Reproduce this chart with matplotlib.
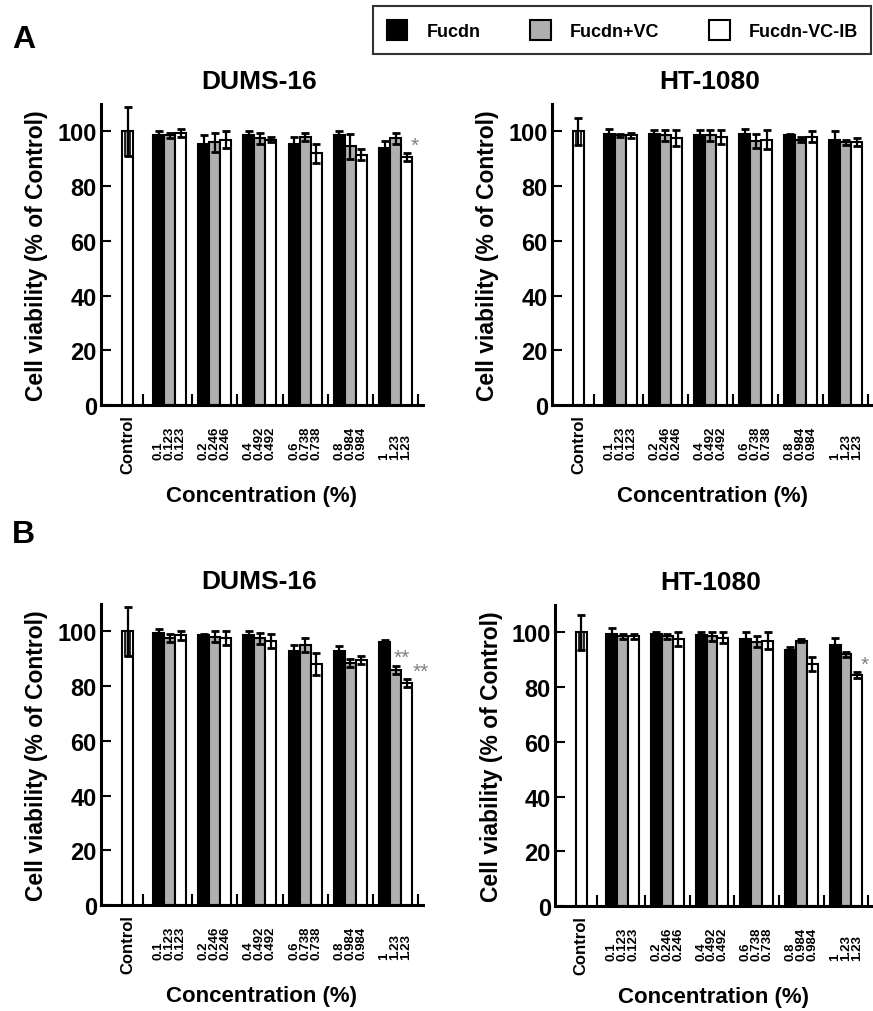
import matplotlib
matplotlib.use("Agg")
import matplotlib.pyplot as plt
import numpy as np
from matplotlib.patches import Patch

plt.rcParams["font.family"] = ["Liberation Sans", "DejaVu Sans"]
plt.rcParams["font.weight"] = "bold"

SERIES = ["Fucdn", "Fucdn+VC", "Fucdn-VC-IB"]
COLORS = ["#000000", "#afafaf", "#ffffff"]
FUCDN_CONC = ["0.1", "0.2", "0.4", "0.6", "0.8", "1"]
VC_CONC = ["0.123", "0.246", "0.492", "0.738", "0.984", "1.23"]
IB_CONC = ["0.123", "0.246", "0.492", "0.738", "0.984", "1.23"]

# panel A, DUMS-16
A_DUMS_CTRL = (100, 9)
A_DUMS_FUCDN = [98.5, 95.5, 98.5, 95.5, 98.5, 94]
A_DUMS_FUCDN_ERR = [1.5, 3, 1.5, 2.5, 1.5, 2.5]
A_DUMS_VC = [98.5, 96, 97.5, 98, 94.5, 97.5]
A_DUMS_VC_ERR = [1, 3.5, 2, 1.5, 4.5, 2]
A_DUMS_IB = [99.5, 97, 97, 92, 91.5, 90.5]
A_DUMS_IB_ERR = [1.5, 3, 0.8, 3.5, 2, 1.5]
# (series, group, mark, x shift)
A_DUMS_STARS = [(2, 5, "*", 0.7)]

# panel A, HT-1080
A_HT_CTRL = (100, 5)
A_HT_FUCDN = [99, 99, 98.5, 99, 98.5, 97]
A_HT_FUCDN_ERR = [2, 1.5, 2, 2, 0.5, 3]
A_HT_VC = [98.5, 98.5, 98.5, 96.5, 97, 96]
A_HT_VC_ERR = [0.5, 2, 2, 2.5, 1, 1]
A_HT_IB = [98.5, 97.5, 98, 97, 98, 96]
A_HT_IB_ERR = [1, 3, 2.5, 3.5, 2, 1.5]
A_HT_STARS = []

# panel B, DUMS-16
B_DUMS_CTRL = (100, 9)
B_DUMS_FUCDN = [99.5, 98.5, 98.5, 93, 93, 96]
B_DUMS_FUCDN_ERR = [1.5, 0.5, 1.5, 2, 1.5, 1]
B_DUMS_VC = [97.5, 98, 97.5, 95, 88.5, 86]
B_DUMS_VC_ERR = [1.5, 2, 2, 2.5, 1.5, 1.5]
B_DUMS_IB = [98.5, 97.5, 96.5, 88, 89.5, 81]
B_DUMS_IB_ERR = [1.5, 2.5, 2.5, 4, 1.5, 1.5]
B_DUMS_STARS = [(1, 5, "**", 0.6), (2, 5, "**", 1.25)]

# panel B, HT-1080
B_HT_CTRL = (100, 6.5)
B_HT_FUCDN = [99.5, 99.5, 99, 97.5, 93.5, 95.5]
B_HT_FUCDN_ERR = [2, 0.5, 1, 2.5, 1, 2.5]
B_HT_VC = [98.5, 98.5, 98.5, 96.5, 97, 92]
B_HT_VC_ERR = [1, 1, 1.5, 2, 0.5, 1]
B_HT_IB = [98.5, 97.5, 98, 97, 88.5, 84.5]
B_HT_IB_ERR = [1, 2.5, 2, 3, 2.5, 1]
B_HT_STARS = [(2, 5, "*", 0.7)]

W, H = 873, 1012
GROUP_START = 3.82
GROUP_STEP = 4.11


def rect(x0, x1, y_axis, y_top):
    return [x0 / W, 1 - y_axis / H, (x1 - x0) / W, (y_axis - y_top) / H]


def draw_panel(ax, title, ctrl, means, errs, stars, inner_color):
    n = len(means[0])
    centers = GROUP_START + GROUP_STEP * np.arange(n)
    ekw = dict(ecolor="black", elinewidth=1.6, capsize=3.2, capthick=2)

    ax.bar(0, ctrl[0], width=1, color="white", edgecolor="black", linewidth=1.5, zorder=2)
    ax.bar(0, ctrl[1], bottom=ctrl[0] - ctrl[1], width=0.45, color=inner_color,
           edgecolor="black", linewidth=1.2, zorder=3)
    ax.errorbar(0, ctrl[0], yerr=ctrl[1], fmt="none", zorder=4, **ekw)

    for i, (m, e) in enumerate(zip(means, errs)):
        xs = centers + (i - 1)
        ax.bar(xs, m, width=1, color=COLORS[i], edgecolor="black", linewidth=1.5, zorder=2)
        ax.errorbar(xs, m, yerr=e, fmt="none", zorder=4, **ekw)

    for si, gi, txt, dx in stars:
        x = centers[gi] + (si - 1) + dx
        y = means[si][gi] + errs[si][gi] + 3
        ax.text(x, y, txt, ha="center", va="center", color="#808080",
                fontsize=15, fontweight="normal", zorder=5)

    seps = np.concatenate([[(0.5 + centers[0] - 1.5) / 2],
                           (centers[:-1] + centers[1:]) / 2,
                           [centers[-1] + GROUP_STEP / 2]])
    ax.set_xticks(seps)
    ax.set_xticklabels([])
    ax.tick_params(axis="x", direction="in", length=8, width=1.5)
    ax.set_xlim(-2.41, 26.86)
    ax.set_ylim(0, 110)
    ax.set_yticks([0, 20, 40, 60, 80, 100])
    ax.tick_params(axis="y", direction="in", length=7, width=1.5, labelsize=17, pad=3)
    for lab in ax.get_yticklabels():
        lab.set_fontweight("bold")
    for side in ("top", "right"):
        ax.spines[side].set_visible(False)
    for side in ("left", "bottom"):
        ax.spines[side].set_linewidth(2.2)

    tr = ("data", "axes fraction")
    ax.annotate("Control", xy=(0, 0), xycoords=tr, xytext=(0, -9), textcoords="offset pixels",
                rotation=90, ha="center", va="top", fontsize=12, fontweight="bold")
    for i, labels in enumerate([FUCDN_CONC, VC_CONC, IB_CONC]):
        for c, lab in zip(centers + (i - 1), labels):
            ax.annotate(lab, xy=(c, 0), xycoords=tr, xytext=(0, -54), textcoords="offset pixels",
                        rotation=90, ha="center", va="bottom", fontsize=9.5, fontweight="bold")

    ax.text(0.49, 1.076, title, transform=ax.transAxes, ha="center", va="center",
            fontsize=19, fontweight="bold")
    ax.text(-0.2, 0.5, "Cell viability (% of Control)", transform=ax.transAxes, rotation=90,
            ha="center", va="center", fontsize=16.5, fontweight="bold")
    ax.text(0.5, -0.302, "Concentration (%)", transform=ax.transAxes, ha="center",
            va="center", fontsize=16, fontweight="bold")


fig = plt.figure(figsize=(W / 100, H / 100), dpi=100)

ax1 = fig.add_axes(rect(101, 423, 406, 105))
draw_panel(ax1, "DUMS-16", A_DUMS_CTRL,
           [A_DUMS_FUCDN, A_DUMS_VC, A_DUMS_IB],
           [A_DUMS_FUCDN_ERR, A_DUMS_VC_ERR, A_DUMS_IB_ERR], A_DUMS_STARS, "#afafaf")
ax2 = fig.add_axes(rect(552, 873, 406, 105))
draw_panel(ax2, "HT-1080", A_HT_CTRL,
           [A_HT_FUCDN, A_HT_VC, A_HT_IB],
           [A_HT_FUCDN_ERR, A_HT_VC_ERR, A_HT_IB_ERR], A_HT_STARS, "#ffffff")
ax3 = fig.add_axes(rect(101, 423, 906, 605))
draw_panel(ax3, "DUMS-16", B_DUMS_CTRL,
           [B_DUMS_FUCDN, B_DUMS_VC, B_DUMS_IB],
           [B_DUMS_FUCDN_ERR, B_DUMS_VC_ERR, B_DUMS_IB_ERR], B_DUMS_STARS, "#afafaf")
ax4 = fig.add_axes(rect(555, 873, 907, 606))
draw_panel(ax4, "HT-1080", B_HT_CTRL,
           [B_HT_FUCDN, B_HT_VC, B_HT_IB],
           [B_HT_FUCDN_ERR, B_HT_VC_ERR, B_HT_IB_ERR], B_HT_STARS, "#afafaf")

fig.text(12 / W, 1 - 48 / H, "A", fontsize=23, fontweight="bold", va="baseline")
fig.text(12 / W, 1 - 543 / H, "B", fontsize=23, fontweight="bold", va="baseline")

handles = [Patch(facecolor=c, edgecolor="black", linewidth=1.5) for c in COLORS]
leg = fig.legend(handles, SERIES, loc="upper left", bbox_to_anchor=(373 / W, 1 - 7 / H),
                 ncol=3, fontsize=13, frameon=True, fancybox=False, borderaxespad=0,
                 handlelength=1.15, handleheight=1.4, handletextpad=1.05,
                 columnspacing=2.75, borderpad=0.75)
leg.get_frame().set_edgecolor("black")
leg.get_frame().set_linewidth(1.5)
for t in leg.get_texts():
    t.set_fontweight("bold")

fig.savefig("out.png", dpi=100)
